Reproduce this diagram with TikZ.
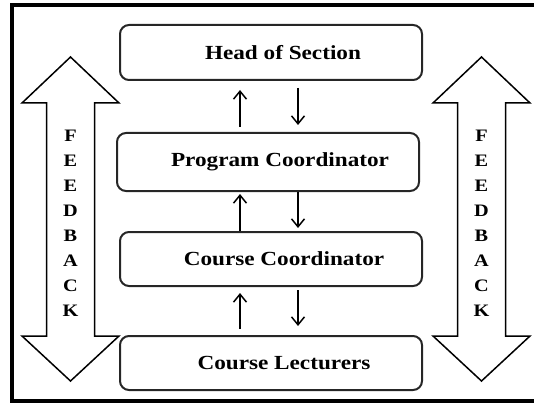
\documentclass[tikz,border=0pt]{standalone}
\usepackage{fontspec}
\setmainfont{Liberation Serif}[FakeStretch=1.16]
\usetikzlibrary{arrows.meta}

\tikzset{
  unit/.style={draw=black!85, line width=2pt, rounded corners=9pt, minimum width=302pt, minimum height=55pt},
  title/.style={font=\fontsize{20}{24}\selectfont\bfseries},
  flow/.style={line width=1.5pt, -{Straight Barb[length=8pt,width=13pt]}},
  fb/.style={draw, line width=1.5pt, line join=miter},
  fbtext/.style={font=\fontsize{17.5}{25}\selectfont\bfseries, align=center, inner sep=0pt},
}

\begin{document}
\begin{tikzpicture}[x=1pt,y=-1pt]

\useasboundingbox (0,0) rectangle (534,403);
\clip (0,0) rectangle (534,403);
% page frame, open to the right
\draw[line width=4pt] (545,5.5) -- (12,5.5) -- (12,401) -- (545,401);

% the four levels
\node[unit, label={[title,xshift=12pt]center:Head of Section}] (head) at (271,52.5) {};
\node[unit, minimum height=58pt, label={[title,xshift=12pt]center:Program Coordinator}] (prog) at (268,162) {};
\node[unit, minimum height=54pt, label={[title,xshift=13pt]center:Course Coordinator}] (cc) at (271,259) {};
\node[unit, minimum height=54pt, label={[title,xshift=13pt]center:Course Lecturers}] (lec) at (271,363) {};

% up and down between levels
\coordinate (up) at (240,0);
\coordinate (dn) at (298,0);
\draw[flow, shorten <=5pt, shorten >=9pt] (prog.north -| up) -- (head.south -| up);
\draw[flow, shorten <=7pt, shorten >=7pt] (head.south -| dn) -- (prog.north -| dn);
\draw[flow, shorten >=2pt] (cc.north -| up) -- (prog.south -| up);
\draw[flow, shorten >=3pt] (prog.south -| dn) -- (cc.north -| dn);
\draw[flow, shorten <=6pt, shorten >=6pt] (lec.north -| up) -- (cc.south -| up);
\draw[flow, shorten <=3pt, shorten >=9pt] (cc.south -| dn) -- (lec.north -| dn);

% feedback arrows on both sides
\draw[fb] (70.5,57) -- (119,103) -- (94.5,103) -- (94.5,336) -- (119,336) -- (70.5,381)
      -- (22,336) -- (46.5,336) -- (46.5,103) -- (22,103) -- cycle;
\draw[fb] (481.5,57) -- (530,103) -- (505.5,103) -- (505.5,336) -- (530,336) -- (481.5,381)
      -- (433,336) -- (457.5,336) -- (457.5,103) -- (433,103) -- cycle;
\node[fbtext] (fbl) at (70.5,223.5) {F\\E\\E\\D\\B\\A\\C\\K};
\node[fbtext] (fbr) at (481.5,223.5) {F\\E\\E\\D\\B\\A\\C\\K};

\end{tikzpicture}
\end{document}
